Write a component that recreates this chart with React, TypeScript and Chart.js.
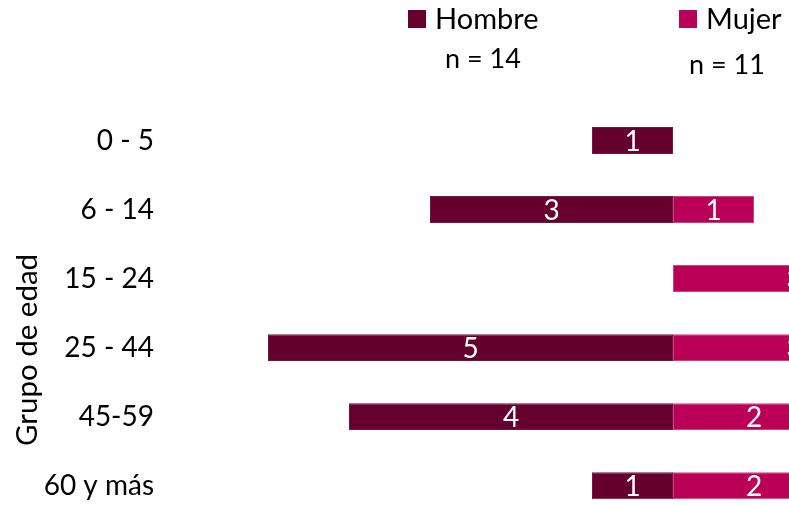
import React, { useEffect, useRef } from "react";
import { Chart, registerables } from "chart.js";
Chart.register(...registerables);

const categories = ["0 - 5", "6 - 14", "15 - 24", "25 - 44", "45-59", "60 y más"];
const hombre = [1, 3, 0, 5, 4, 1];
const mujer = [0, 1, 3, 3, 2, 2];
const seriesNames = ["Hombre", "Mujer"];
const seriesN = ["n = 14", "n = 11"];
const axisTitle = "Grupo de edad";
const colors = ["#65002F", "#BB0057"];
const edgeColors = ["#74163F", "#C8427F"];
const FONT = "Lato, 'Open Sans', sans-serif";

const labelPlugin = {
  id: "barLabels",
  afterDatasetsDraw(chart: any) {
    const ctx = chart.ctx;
    ctx.save();
    ctx.fillStyle = "#ffffff";
    ctx.font = `28px ${FONT}`;
    ctx.textAlign = "center";
    ctx.textBaseline = "middle";
    chart.data.datasets.forEach((ds: any, i: number) => {
      const meta = chart.getDatasetMeta(i);
      meta.data.forEach((bar: any, j: number) => {
        const v = Math.abs(ds.data[j]);
        if (!v) return;
        const p = bar.getProps(["x", "base", "y"], true);
        ctx.fillText(String(v), (p.x + p.base) / 2, p.y + 1);
      });
    });
    ctx.restore();
  },
};

const legendPlugin = {
  id: "customLegend",
  afterDraw(chart: any) {
    const ctx = chart.ctx;
    ctx.save();
    const items = [
      { box: 408, text: 435, nx: 483, ny: 68 },
      { box: 679, text: 706, nx: 727, ny: 74 },
    ];
    items.forEach((it, i) => {
      ctx.fillStyle = colors[i];
      ctx.fillRect(it.box, 10, 18, 18);
      ctx.fillStyle = "#000";
      ctx.font = `29px ${FONT}`;
      ctx.textAlign = "left";
      ctx.textBaseline = "alphabetic";
      ctx.fillText(seriesNames[i], it.text, 29);
      ctx.font = `27px ${FONT}`;
      ctx.textAlign = "center";
      ctx.fillText(seriesN[i], it.nx, it.ny);
    });
    ctx.translate(27, 350);
    ctx.rotate(-Math.PI / 2);
    ctx.font = `29.5px ${FONT}`;
    ctx.textAlign = "center";
    ctx.textBaseline = "middle";
    ctx.fillText(axisTitle, 0, 0);
    ctx.restore();
  },
};

export default function App() {
  const ref = useRef<HTMLCanvasElement>(null);
  useEffect(() => {
    if (!ref.current) return;
    const chart = new Chart(ref.current, {
      type: "bar",
      data: {
        labels: categories,
        datasets: [
          {
            label: seriesNames[0],
            data: hombre.map((v) => -v),
            backgroundColor: colors[0],
            borderColor: edgeColors[0],
            borderWidth: 1,
            borderSkipped: false,
            barPercentage: 0.39,
            categoryPercentage: 1,
          },
          {
            label: seriesNames[1],
            data: mujer,
            backgroundColor: colors[1],
            borderColor: edgeColors[1],
            borderWidth: 1,
            borderSkipped: false,
            barPercentage: 0.39,
            categoryPercentage: 1,
          },
        ],
      },
      options: {
        indexAxis: "y",
        animation: false,
        responsive: false,
        devicePixelRatio: 1,
        layout: { padding: { top: 106, bottom: 0, left: 0, right: 3 } },
        plugins: { legend: { display: false }, tooltip: { enabled: false } },
        scales: {
          x: { stacked: true, min: -6, max: 4, display: false },
          y: {
            stacked: true,
            grid: { display: false, drawTicks: false },
            border: { display: false },
            ticks: { padding: 33, color: "#000", font: { family: FONT, size: 28 } },
            afterFit: (s: any) => {
              s.width = 187;
            },
          },
        },
      },
      plugins: [labelPlugin, legendPlugin],
    } as any);
    return () => chart.destroy();
  }, []);
  return (
    <div style={{ position: "fixed", left: 0, top: 0, width: 789, height: 506, overflow: "hidden", background: "#fff" }}>
      <canvas ref={ref} width={1000} height={570} style={{ display: "block" }} />
    </div>
  );
}
